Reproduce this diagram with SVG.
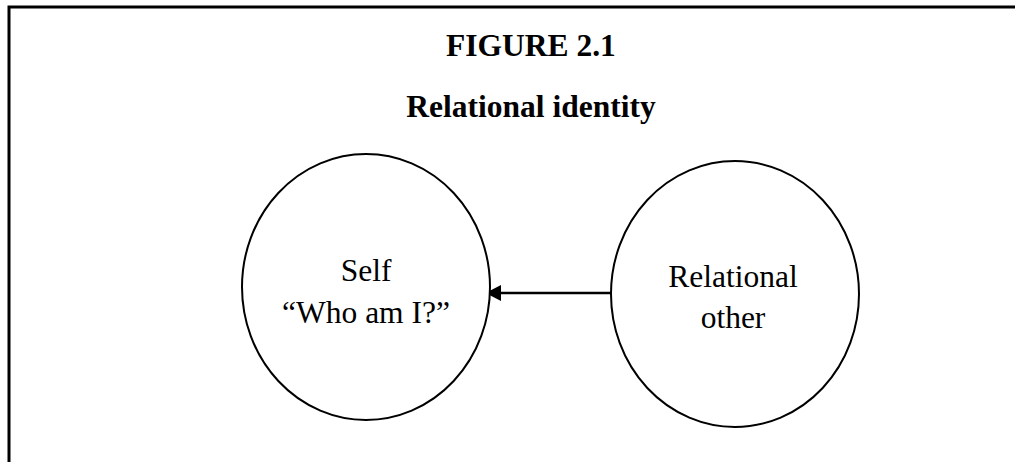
<svg xmlns="http://www.w3.org/2000/svg" width="1015" height="462" viewBox="0 0 1015 462">
  <style>
    .frame { fill: none; stroke: #000; stroke-width: 3; }
    .node { fill: #fff; stroke: #000; stroke-width: 2; }
    .title { font-family: "Liberation Serif", "Times New Roman", serif; font-weight: bold; font-size: 31.5px; text-anchor: middle; fill: #000; }
    .label { font-family: "Liberation Serif", "Times New Roman", serif; font-size: 31.5px; text-anchor: middle; fill: #000; }
    .edge { stroke: #000; stroke-width: 2.5; fill: none; }
    .head { fill: #000; }
  </style>
  <rect width="1015" height="462" fill="#fff"/>

  <!-- open frame: top and left edges -->
  <path class="frame" d="M9,462 V7 H1015"/>

  <g id="heading">
    <text class="title" x="531" y="56">FIGURE 2.1</text>
    <text class="title" x="531" y="117">Relational identity</text>
  </g>

  <g id="connectors">
    <line class="edge" x1="611" y1="293" x2="501" y2="293"/>
    <path class="head" d="M485.5,293 L501,285 L501,301 Z"/>
  </g>

  <g id="self">
    <ellipse class="node" cx="366" cy="287" rx="124" ry="133"/>
    <text class="label" x="366" y="281">Self</text>
    <text class="label" x="366" y="323">“Who am I?”</text>
  </g>

  <g id="relational-other">
    <ellipse class="node" cx="735" cy="294" rx="124" ry="133"/>
    <text class="label" x="733" y="287">Relational</text>
    <text class="label" x="733" y="328">other</text>
  </g>
</svg>
